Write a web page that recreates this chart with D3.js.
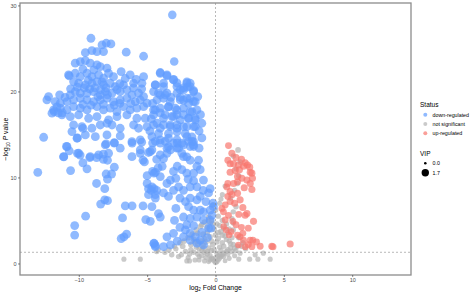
<!DOCTYPE html>
<html><head><meta charset="utf-8">
<script src="https://cdn.jsdelivr.net/npm/d3@7"></script>
<style>body{margin:0;background:#fff}svg{display:block}text{font-family:"Liberation Sans",Arial,sans-serif}</style>
</head><body>
<svg id="c" width="472" height="295"></svg>
<script>
// ---- data (log2FC, -log10 P, VIP) ----
const statusLevels = ["down-regulated","not significant","up-regulated"];
const statusColors = ["#619CFF","#B3B3B3","#F8766D"];
const xTicks = [-10,-5,0,5,10];
const yTicks = [0,10,20,30];
const vipBreaks = [0.0,1.7];
const pThreshold = 1.301;

const notSig = [
[0,0.1,0.9],[0.1,0.2,0.9],[-0.1,0.3,0.9],[0.2,0.4,0.9],[-0.2,0.5,0.9],[0.3,0.6,0.9],[-0.3,0.6,1.0],[0.4,0.8,0.9],[-0.4,0.9,1.0],[0.5,1.0,1.0],
[-0.6,1.1,1.0],[0.6,1.2,1.0],[-0.8,1.3,1.0],[0.8,1.4,1.0],[-1.0,1.5,1.0],[0.9,1.6,1.0],[-1.2,1.7,1.0],[1.1,1.8,1.0],[-1.4,1.9,1.0],[-0.5,1.8,1.1],
[0.3,1.9,1.0],[-0.2,2.2,1.1],[0.5,2.4,1.0],[-0.7,2.5,1.1],[-1.1,2.6,1.1],[1.0,2.6,1.0],[-1.6,2.8,1.1],[0.2,2.9,1.1],[-0.4,3.1,1.1],[0.7,3.2,1.0],
[-0.9,3.4,1.1],[-1.3,3.5,1.1],[0.4,3.7,1.1],[-0.1,4.0,1.1],[-0.6,4.2,1.1],[0.1,4.6,1.0],[-0.3,5.0,1.1],[0.2,5.5,1.0],[0.0,6.2,1.0],[0.3,7.0,0.9],
[0.1,1.2,0.9],[-0.3,1.5,1.0],[0.6,2.0,1.0],[-0.9,2.1,1.1],[-1.8,2.2,1.1],[-2.2,1.4,1.0],[-2.5,1.0,1.0],[-2.0,0.7,0.9],[-1.5,0.4,0.9],[-2.7,0.8,1.0],
[-3.2,1.0,1.0],[-1.8,1.6,1.0],[1.3,2.2,1.0],[1.5,1.5,0.9],[1.8,1.2,0.9],[1.4,0.9,0.9],[1.0,0.6,0.9],[0.7,0.3,0.8],[-0.8,0.3,0.9],[-1.2,0.8,0.9],
[2.5,0.5,0.9],[3.1,0.5,0.9],[4.0,0.5,0.9],[-5.5,0.5,0.9],[-6.7,0.5,0.9],[-4.3,1.4,1.0],[-4.2,1.6,1.0],[-3.7,1.3,1.0],[1.4,1.8,1.0],[2.2,1.7,1.0],
[1.2,3.0,1.0],[1.0,4.0,1.0],[0.8,4.6,1.0],[1.2,5.2,1.0],[1.3,6.0,1.0],[1.5,6.6,1.0],[1.1,7.6,1.0],[1.4,8.5,1.0],[1.6,9.3,1.0],[1.7,10.2,1.0],
[1.5,11.0,1.0],[1.8,11.8,1.0],[1.65,13.2,1.1],[1.3,12.5,1.0],[0.7,9.0,0.9],[0.5,8.0,0.9],[0.4,7.5,0.9],[-0.5,0.2,0.8],[0.2,0.9,0.9],[-0.1,1.6,1.0],
[-2.4,2.0,1.1],[-2.9,1.7,1.0],[-1.9,0.3,0.9],[1.7,0.5,0.9],[2.0,2.4,1.0],[-0.6,3.6,1.1],[0.0,3.3,1.1],[-1.0,4.5,1.1],[0.5,5.0,1.0],[-0.2,6.8,1.0],
[-2.3,2.6,1.1],[-2.0,3.0,1.1],[-1.7,3.4,1.1],[-1.4,3.9,1.1],[-1.1,4.3,1.1],[-0.8,4.8,1.1],[-0.5,5.4,1.1],[-1.9,1.1,1.0],[-1.6,1.3,1.0],[-1.3,1.1,1.0],
[-1.0,0.9,1.0],[-0.7,0.7,0.9],[-0.4,0.4,0.9],[0.0,0.7,0.9],[0.3,1.0,0.9],[0.6,0.8,0.9],[0.9,1.1,1.0],[1.2,1.4,1.0],[1.6,2.0,1.0],[1.9,2.0,1.0],
[1.1,2.3,1.0],[0.8,2.8,1.0],[0.5,3.3,1.1],[0.2,3.6,1.1],[-0.3,2.6,1.1],[-0.8,2.9,1.1],[-1.3,2.3,1.1],[-2.6,2.4,1.1],[-3.0,2.0,1.0],[-3.4,1.6,1.0],
[-1.5,2.5,1.1],[0.9,3.6,1.0],[1.3,3.9,1.0],[0.6,4.1,1.0],[0.3,4.4,1.0],[-0.2,4.6,1.1],[-0.5,4.9,1.1],[-1.2,0.4,0.9],[-0.9,1.8,1.0],[0.1,2.5,1.0],
[0.4,1.5,1.0],[-0.6,1.4,1.0],[1.7,3.0,1.0],[1.3,4.7,1.0],[-2.1,0.3,0.9],[2.9,1.0,0.9],[3.5,1.2,0.9]
];

const down = [
[-3.16,28.9,2.1],[-9.11,26.18,2.2],[-8.3,25.41,2.2],[-7.99,25.6,2.2],[-7.65,25.52,2.2],[-9.52,24.51,2.2],[-9.04,24.75,2.2],[-8.67,24.63,2.2],[-8.19,24.63,2.2],[-6.53,24.56,2.2],[-5.26,24.09,2.2],[-3.02,23.47,2.1],
[-10.26,23.28,2.2],[-9.89,23.47,2.2],[-9.52,23.58,2.2],[-9.16,23.28,2.2],[-8.67,23.08,2.2],[-8.43,22.88,2.2],[-7.94,22.7,2.2],
[-10.75,21.92,2.2],[-10.26,22.11,2.2],[-9.89,21.72,2.2],[-9.4,22.11,2.2],[-9.04,21.72,2.2],[-8.55,21.92,2.2],[-8.19,21.53,2.2],[-7.82,22.11,2.2],[-7.46,21.72,2.2],[-6.24,21.92,2.2],[-5.26,21.72,2.2],[-4.04,22.11,2.2],[-3.55,21.92,2.2],[-3.07,21.34,2.2],
[-10.38,21.14,2.2],[-10.01,20.95,2.2],[-9.52,20.76,2.2],[-9.04,20.95,2.2],[-8.67,21.14,2.2],[-8.19,20.76,2.2],[-7.7,20.95,2.2],[-7.33,20.56,2.2],[-6.73,20.76,2.2],[-5.99,20.95,2.2],[-5.38,20.95,2.2],[-4.41,20.76,2.2],[-3.8,20.95,2.2],[-2.82,20.56,2.2],[-2.09,20.95,2.2],[-1.85,20.56,2.2],
[-10.62,19.59,2.2],[-10.26,19.98,2.2],[-9.89,19.79,2.2],[-9.4,19.79,2.2],[-8.92,19.98,2.2],[-8.43,19.59,2.2],[-8.06,19.98,2.2],[-7.57,19.79,2.2],[-6.97,19.98,2.2],[-6.48,20.17,2.2],[-6.11,19.59,2.2],[-5.63,19.79,2.2],[-5.26,19.4,2.2],[-4.53,19.98,2.2],[-4.04,19.59,2.2],[-3.55,19.79,2.2],[-2.82,19.79,2.2],[-2.34,20.17,2.2],[-1.61,19.98,2.2],
[-12.21,19.4,2.2],[-12.33,19.01,2.2],[-11.72,18.81,2.2],[-11.35,18.63,2.2],[-10.86,18.81,2.2],[-10.38,19.01,2.2],[-9.89,19.21,2.2],[-9.4,19.01,2.2],[-8.92,18.81,2.2],[-8.43,19.01,2.2],[-7.94,19.21,2.2],[-7.46,18.81,2.2],[-6.97,19.01,2.2],[-6.48,19.21,2.2],[-5.87,18.81,2.2],[-5.5,19.01,2.2],[-5.01,18.63,2.2],[-4.28,19.01,2.2],[-3.8,19.21,2.2],[-3.31,18.81,2.2],[-2.58,19.01,2.2],[-2.09,19.21,2.2],[-1.61,18.81,2.2],
[-11.84,17.85,2.2],[-11.35,18.05,2.2],[-10.86,17.85,2.2],[-10.38,18.23,2.2],[-9.89,18.05,2.2],[-9.4,17.85,2.2],[-8.67,18.23,2.2],[-8.19,17.85,2.2],[-7.7,18.05,2.2],[-7.21,17.65,2.2],[-6.73,18.23,2.2],[-6.24,17.85,2.2],[-5.75,18.05,2.2],[-5.26,18.23,2.2],[-4.53,17.85,2.2],[-4.04,18.05,2.2],[-3.44,18.23,2.2],[-2.82,17.85,2.2],[-2.34,18.05,2.2],[-1.85,17.65,2.2],[-1.36,17.85,2.2],
[-11.96,17.47,2.2],[-11.23,17.27,2.2],[-10.62,17.07,2.2],[-10.01,17.27,2.2],[-9.28,16.88,2.2],[-8.67,17.07,2.2],[-7.82,16.69,2.2],[-7.21,17.07,2.2],[-6.48,17.27,2.2],[-5.75,16.88,2.2],[-5.14,16.88,2.2],[-4.53,17.27,2.2],[-3.8,16.88,2.2],[-3.07,17.07,2.2],[-2.58,16.69,2.2],[-1.97,16.88,2.2],[-1.48,16.88,2.2],
[-12.57,14.67,2.2],[-10.5,15.33,2.2],[-10.38,16.1,2.2],[-9.77,15.91,2.2],[-9.04,15.72,2.2],[-8.43,16.1,2.2],[-7.94,16.3,2.2],[-7.57,16.1,2.2],[-6.97,15.72,2.2],[-5.99,16.1,2.2],[-5.63,15.72,2.2],[-5.01,15.91,2.2],[-4.53,16.1,2.2],[-4.04,15.72,2.2],[-3.31,16.1,2.2],[-2.82,15.72,2.2],[-2.09,15.91,2.2],[-1.48,15.91,2.2],
[-10.13,14.56,2.2],[-9.52,14.94,2.2],[-8.79,14.74,2.2],[-7.94,14.94,2.2],[-7.4,14.05,2.2],[-6.97,14.83,2.2],[-6.11,14.16,2.2],[-5.5,14.36,2.2],[-4.65,14.74,2.2],[-4.04,14.36,2.2],[-3.44,14.56,2.2],[-2.82,14.36,2.2],[-2.09,14.74,2.2],[-1.61,14.16,2.2],
[-10.86,13.58,2.2],[-11.11,12.42,2.2],[-10.01,12.81,2.2],[-9.16,12.42,2.2],[-8.55,12.62,2.2],[-8.06,13.78,2.2],[-7.82,12.81,2.2],[-6.97,13.4,2.2],[-6.11,12.42,2.2],[-5.5,13.2,2.2],[-4.77,13.0,2.2],[-4.04,12.62,2.2],[-3.44,13.58,2.2],[-2.82,13.4,2.2],[-2.34,12.42,2.2],[-1.61,13.78,2.2],
[-11.8,17.65,2.2],[-11.6,18.2,2.2],[-11.5,17.5,2.2],[-11.2,17.5,2.2],[-10.7,21.8,2.2],[-10.1,14.6,2.2],[-9.7,15.7,2.2],[-10.9,13.6,2.2],
[-9.6,20.4,2.2],[-9.2,20.3,2.2],[-8.8,20.4,2.2],[-8.4,20.2,2.2],[-8.0,20.4,2.2],[-7.2,20.2,2.2],[-9.7,18.5,2.2],[-9.1,18.4,2.2],[-8.2,18.5,2.2],[-7.4,18.4,2.2],[-7.0,20.9,2.2],[-6.6,21.5,2.2],[-8.9,22.5,2.2],[-9.7,22.6,2.2],[-10.1,20.5,2.2],[-8.6,19.4,2.2],[-7.9,19.6,2.2],[-7.0,18.6,2.2],[-6.2,18.6,2.2],[-6.0,20.4,2.2],[-5.8,21.4,2.2],[-5.4,20.3,2.2],[-6.9,22.3,2.2],[-10.6,20.3,2.2],[-11.0,19.3,2.2],[-11.4,19.6,2.2],[-9.3,21.3,2.2],[-8.3,21.1,2.2],
[-4.04,22.2,2.2],[-3.55,21.8,2.2],[-3.07,21.4,2.2],[-2.82,21.0,2.2],[-2.09,21.1,2.2],[-1.85,20.95,2.2],[-1.6,20.1,2.2],[-2.05,20.5,2.2],[-2.34,20.4,2.2],[-2.58,20.2,2.2],[-4.4,20.75,2.2],[-3.8,20.55,2.2],[-4.17,19.8,2.2],[-3.68,19.6,2.2],[-3.26,19.3,2.2],[-2.58,19.3,2.2],[-2.34,19.0,2.2],[-1.85,19.2,2.2],[-1.48,18.8,2.2],[-1.97,18.6,2.2],
[-4.4,17.85,2.2],[-4.04,17.5,2.2],[-3.68,17.3,2.2],[-3.19,17.1,2.2],[-2.82,17.3,2.2],[-2.34,17.3,2.2],[-1.97,16.9,2.2],[-1.48,16.7,2.2],[-1.72,17.65,2.2],[-2.95,18.05,2.2],[-3.44,18.2,2.2],[-4.28,16.3,2.2],[-3.8,16.1,2.2],[-3.31,15.9,2.2],[-2.82,16.1,2.2],[-2.34,15.9,2.2],[-1.6,15.9,2.2],[-4.17,15.1,2.2],[-3.44,15.1,2.2],[-2.82,15.3,2.2],[-2.21,15.1,2.2],[-1.72,14.7,2.2],[-3.68,14.2,2.2],[-3.07,14.0,2.2],[-2.46,14.0,2.2],[-1.97,14.2,2.2],[-1.6,13.6,2.2],[-3.55,13.4,2.2],[-2.7,13.4,2.2],
[-4.4,14.2,2.2],[-4.04,14.0,2.2],[-4.65,13.2,2.2],[-3.55,12.8,2.2],[-3.8,12.2,2.2],[-3.3,13.2,2.2],[-2.8,14.0,2.2],[-2.34,13.8,2.2],[-1.85,13.6,2.2],[-1.72,14.2,2.2],[-2.46,12.8,2.2],[-2.1,12.4,2.2],[-1.85,12.0,2.2],[-1.24,12.0,2.2],[-1.12,10.9,2.2],[-1.36,11.3,2.2],[-1.6,10.5,2.2],[-2.1,10.5,2.2],[-2.46,10.9,2.2],[-2.8,11.3,2.2],[-3.07,10.7,2.2],[-3.3,9.7,2.2],[-3.55,9.3,2.2],[-4.04,10.1,2.2],[-4.5,10.5,2.2],[-4.65,8.9,2.2],[-4.3,8.5,2.2],[-4.4,7.6,2.2],[-3.8,8.2,2.2],[-3.44,7.8,2.2],[-3.07,8.5,2.2],[-2.7,8.9,2.2],[-2.34,8.5,2.2],[-1.85,8.9,2.2],[-1.36,8.9,2.2],[-0.88,9.7,2.2],[-0.39,8.7,2.2],[-0.51,8.2,2.2],[-1.12,7.8,2.2],[-1.36,7.4,2.2],[-1.85,7.6,2.2],[-2.2,7.2,2.2],[-1.97,6.6,2.2],[-1.6,6.2,2.2],[-1.12,6.2,2.2],[-0.88,6.0,2.2],[-0.39,6.2,2.2],[-0.26,5.6,2.2],[-0.39,5.05,2.2],[-0.51,4.1,2.2],[-0.88,5.05,2.2],[-1.36,5.4,2.2],[-1.85,5.25,2.2],[-2.34,5.4,2.2],[-2.1,4.5,2.2],[-2.2,3.9,2.2],[-1.85,3.5,2.2],[-1.48,3.1,2.2],[-1.12,2.7,2.2],[-0.88,2.15,2.2],[-1.36,2.35,2.2],[-1.85,2.7,2.2],[-2.34,3.1,2.2],[-3.07,3.5,2.2],[-3.55,3.1,2.2],[-3.3,2.15,2.2],[-3.8,1.95,2.2],[-4.5,2.35,2.2],[-4.4,1.95,2.2],[-4.17,5.8,2.2],[-4.04,5.4,2.2],[-4.65,6.6,2.2],[-4.77,4.9,2.2],[-0.15,6.6,2.2],[-0.19,7.0,2.2],[-0.34,4.1,2.2],
[-2.9,6.4,2.2],[-2.6,7.6,2.2],[-3.0,5.0,2.2],[-2.6,4.2,2.2],[-1.0,3.6,2.2],[-0.6,3.0,2.2],[-2.8,2.6,2.2],[-1.6,4.4,2.2],[-0.7,7.2,2.2],[-0.9,8.5,2.2],[-1.6,9.6,2.2],[-2.0,9.8,2.2],[-2.9,9.9,2.2],[-3.9,11.3,2.2],[-4.3,12.1,2.2],[-1.2,13.4,2.2],[-1.0,14.6,2.2],[-1.2,15.4,2.2],[-1.0,16.3,2.2],[-1.1,17.3,2.2],[-1.3,19.4,2.2],[-4.6,18.6,2.2],[-4.7,16.8,2.2],[-4.8,15.4,2.2],
[-13.0,10.6,2.2],[-11.1,12.4,2.2],[-10.7,13.1,2.2],[-10.1,12.8,2.2],[-9.9,12.6,2.2],[-9.7,11.7,2.2],[-9.4,11.0,2.2],[-10.6,10.8,2.2],[-9.2,12.3,2.2],[-8.7,12.3,2.2],[-8.2,12.7,2.2],[-8.2,12.1,2.2],[-7.9,12.0,2.2],[-7.4,14.0,2.2],[-8.0,13.9,2.2],[-7.4,11.2,2.2],[-7.6,10.4,2.2],[-8.0,10.4,2.2],[-7.9,9.8,2.2],[-8.7,9.3,2.2],[-8.1,8.7,2.2],[-8.4,6.9,2.2],[-8.1,7.4,2.2],[-7.9,7.3,2.2],[-9.5,5.5,2.2],[-10.3,4.4,2.2],[-10.3,3.3,2.2],[-6.9,2.9,2.2],[-6.8,5.3,2.2],[-6.6,6.7,2.2],[-6.1,6.7,2.2],[-5.3,6.7,2.2],[-5.1,5.1,2.2],[-6.5,3.4,2.2],[-6.7,3.1,2.2],[-6.1,14.0,2.2],[-5.4,14.1,2.2],[-5.5,12.8,2.2],[-5.3,12.0,2.2],[-5.2,11.8,2.2],[-4.9,12.9,2.2],[-5.0,10.2,2.2],[-5.0,9.3,2.2],[-4.9,8.7,2.2],[-4.9,8.0,2.2],[-4.7,8.5,2.2],[-4.5,8.7,2.2],[-4.4,8.0,2.2],[-4.6,10.7,2.2],[-4.4,10.6,2.2],[-4.2,11.1,2.2],[-4.5,2.3,2.2],[-4.4,2.1,2.2],[-4.6,14.0,2.2]
];

const up = [
[0.95,13.7,1.5],[1.07,11.6,1.6],[1.32,11.6,1.6],[1.68,11.45,1.6],[2.17,11.7,1.6],[2.34,11.45,1.6],[2.05,11.3,1.6],[1.75,10.9,1.6],[1.44,10.8,1.6],[1.07,10.6,1.6],
[2.54,10.6,1.6],[2.66,10.5,1.6],[1.61,10.1,1.6],[1.93,9.9,1.6],[2.3,9.7,1.6],[2.54,9.3,1.6],[2.66,8.6,1.6],[1.61,9.5,1.6],[1.32,9.3,1.6],[0.9,9.3,1.5],
[0.83,8.9,1.5],[1.07,8.35,1.6],[1.2,8.0,1.6],[1.61,8.15,1.6],[1.8,7.4,1.6],[1.07,7.2,1.6],[0.71,6.8,1.5],[0.47,6.4,1.5],[0.58,6.0,1.5],[0.95,5.6,1.5],
[0.71,5.05,1.5],[1.27,4.9,1.5],[2.17,5.6,1.6],[2.3,5.8,1.6],[2.78,4.9,1.6],[0.78,3.9,1.4],[1.15,3.7,1.4],[1.61,3.3,1.5],[1.8,3.1,1.5],[2.05,2.7,1.5],
[2.54,2.7,1.5],[1.68,2.15,1.4],[2.17,1.95,1.5],[2.66,1.95,1.5],[2.73,2.7,1.5],[3.27,2.0,1.5],[4.12,2.0,1.6],[4.2,1.95,1.6],[5.46,2.27,1.6],
[1.5,12.3,1.6],[1.2,12.8,1.6],[1.9,12.1,1.6],[0.9,12.0,1.5],[2.5,11.2,1.6],[2.7,9.9,1.6],[2.1,8.8,1.6],[1.4,7.0,1.6],[0.9,7.8,1.5],[2.0,6.5,1.6],
[1.7,5.7,1.5],[2.4,4.1,1.5],[0.6,4.3,1.4],[1.5,4.5,1.5],[1.9,4.2,1.5],[1.0,3.3,1.4],[2.0,3.5,1.5],[3.0,2.5,1.5],[2.4,2.2,1.5]
];

// ---- chart ----
const svg = d3.select("#c");
const panel = {l:20, r:411, t:3, b:275};
const x = d3.scaleLinear().domain([-14.3,14.3]).range([panel.l, panel.r]);
const y = d3.scaleLinear().domain([-1.34,30.28]).range([panel.b, panel.t]);
const r = d3.scaleLinear().domain([0,1.7]).range([1.3,3.7]);
const color = d3.scaleOrdinal().domain(statusLevels).range(statusColors);

svg.append("rect").attr("width",472).attr("height",295).attr("fill","#fff");

const g = svg.append("g");
const series = [[notSig,"not significant"],[down,"down-regulated"],[up,"up-regulated"]];
series.forEach(([arr,s])=>{
  g.append("g").selectAll("circle").data(arr).join("circle")
    .attr("cx",d=>x(d[0])).attr("cy",d=>y(d[1])).attr("r",d=>r(d[2]))
    .attr("fill",color(s)).attr("fill-opacity",0.7);
});

// threshold lines
svg.append("line").attr("x1",x(0)).attr("x2",x(0)).attr("y1",panel.t).attr("y2",panel.b)
  .attr("stroke","#8a8a8a").attr("stroke-width",0.6).attr("stroke-dasharray","2,2");
svg.append("line").attr("x1",panel.l).attr("x2",panel.r).attr("y1",y(pThreshold)).attr("y2",y(pThreshold))
  .attr("stroke","#8a8a8a").attr("stroke-width",0.6).attr("stroke-dasharray","2,2");

// frame
svg.append("rect").attr("x",panel.l).attr("y",panel.t).attr("width",panel.r-panel.l).attr("height",panel.b-panel.t)
  .attr("fill","none").attr("stroke","#8c8c8c").attr("stroke-width",1.3);

// axes
const ax = svg.append("g").attr("transform",`translate(0,${panel.b})`)
  .call(d3.axisBottom(x).tickValues(xTicks).tickSize(2).tickPadding(1.5));
const ay = svg.append("g").attr("transform",`translate(${panel.l},0)`)
  .call(d3.axisLeft(y).tickValues(yTicks).tickSize(2).tickPadding(1.5));
[ax,ay].forEach(a=>{
  a.select(".domain").remove();
  a.selectAll(".tick line").attr("stroke","#333").attr("stroke-width",0.6);
  a.selectAll(".tick text").attr("fill","#4d4d4d").style("font-size","5.5px").style("font-family","'Liberation Sans',Arial,sans-serif");
});

// axis titles
const xt = svg.append("text").attr("x",x(0)).attr("y",289.5).attr("text-anchor","middle")
  .style("font-size","6.8px").attr("fill","#000");
xt.append("tspan").text("log");
xt.append("tspan").text("2").style("font-size","4.6px").attr("dy",1.5);
xt.append("tspan").text(" Fold Change").attr("dy",-1.5);

const yt = svg.append("text").attr("transform",`translate(8,${(panel.t+panel.b)/2}) rotate(-90)`)
  .attr("text-anchor","middle").style("font-size","6.8px").attr("fill","#000");
yt.append("tspan").text("\u2212log");
yt.append("tspan").text("10").style("font-size","4.6px").attr("dy",1.5);
yt.append("tspan").text(" ").attr("dy",-1.5);
yt.append("tspan").text("P").style("font-style","italic");
yt.append("tspan").text(" value");

// legends
const lg = svg.append("g");
lg.append("text").attr("x",420).attr("y",106.5).text("Status").style("font-size","6.5px");
statusLevels.forEach((s,i)=>{
  const yy = 114.7 + i*9.3;
  lg.append("circle").attr("cx",425.3).attr("cy",yy).attr("r",2).attr("fill",color(s)).attr("fill-opacity",0.7);
  lg.append("text").attr("x",432.5).attr("y",yy+1.9).text(s).style("font-size",  "5.3px").attr("fill","#000");
});
lg.append("text").attr("x",420).attr("y",155.5).text("VIP").style("font-size","6.5px");
vipBreaks.forEach((v,i)=>{
  const yy = 163.3 + i*9.4;
  lg.append("circle").attr("cx",425.3).attr("cy",yy).attr("r",r(v)).attr("fill","#000");
  lg.append("text").attr("x",432.5).attr("y",yy+1.9).text(v.toFixed(1)).style("font-size","5.3px").attr("fill","#000");
});
</script>
</body></html>
